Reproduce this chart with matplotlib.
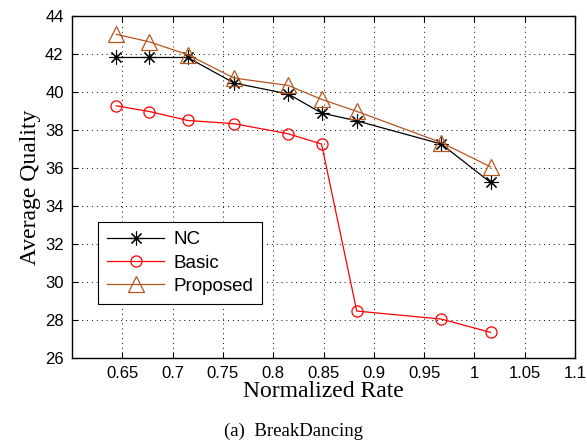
import matplotlib
matplotlib.use('Agg')
import matplotlib.pyplot as plt

# values
rate = [0.644, 0.677, 0.715, 0.761, 0.815, 0.848, 0.883, 0.967, 1.016]
nc = [41.8, 41.8, 41.8, 40.46, 39.88, 38.88, 38.47, 37.25, 35.23]
basic = [39.26, 38.96, 38.49, 38.32, 37.79, 37.25, 28.47, 28.05, 27.35]
proposed = [43.02, 42.62, 41.95, 40.72, 40.33, 39.6, 38.97, 37.33, 36.05]

x_ticks = [0.65, 0.7, 0.75, 0.8, 0.85, 0.9, 0.95, 1.0, 1.05, 1.1]
x_tick_labels = ['0.65', '0.7', '0.75', '0.8', '0.85', '0.9', '0.95', '1', '1.05', '1.1']
y_ticks = list(range(26, 45, 2))

BROWN = '#b5561f'

fig = plt.figure(figsize=(5.87, 4.47), dpi=100)
ax = fig.add_axes([0.1227, 0.199, 0.857, 0.766])

ax.plot(rate, nc, color='black', lw=0.9, marker=(8, 2, 0), ms=10, mew=0.8,
        label='NC')
ax.plot(rate, basic, color='red', lw=0.9, marker='o', ms=8, mfc='none',
        mew=0.9, label='Basic')
ax.plot(rate, proposed, color=BROWN, lw=0.9, marker='^', ms=12, mfc='none',
        mew=0.9, label='Proposed')

ax.set_xlim(0.6, 1.1)
ax.set_ylim(26, 44)
ax.set_xticks(x_ticks)
ax.set_xticklabels(x_tick_labels)
ax.set_yticks(y_ticks)
ax.tick_params(direction='in', top=True, right=True, labelsize=12,
               length=4, width=0.8, pad=6)
for lab in ax.get_xticklabels() + ax.get_yticklabels():
    lab.set_family('Liberation Sans')
for s in ax.spines.values():
    s.set_linewidth(1.0)

ax.grid(True, color='black', linestyle=(0, (1, 4)), linewidth=0.7)

ax.set_xlabel('Normalized Rate', family='Liberation Serif', fontsize=17,
              labelpad=0)
ax.set_ylabel('Average Quality', family='Liberation Serif', fontsize=17,
              labelpad=3)

leg = ax.legend(loc='upper left', bbox_to_anchor=(0.0517, 0.398),
                borderaxespad=0,
                prop={'family': 'Liberation Sans', 'size': 13.5},
                fancybox=False, edgecolor='black', framealpha=1,
                handlelength=3.0, borderpad=0.5, labelspacing=0.33,
                handletextpad=0.5)
leg.get_frame().set_linewidth(0.8)

fig.text(0.5, 0.034, '(a)  BreakDancing', ha='center', va='center',
         family='Liberation Serif', fontsize=13.5)

fig.savefig('out.png', dpi=100)
